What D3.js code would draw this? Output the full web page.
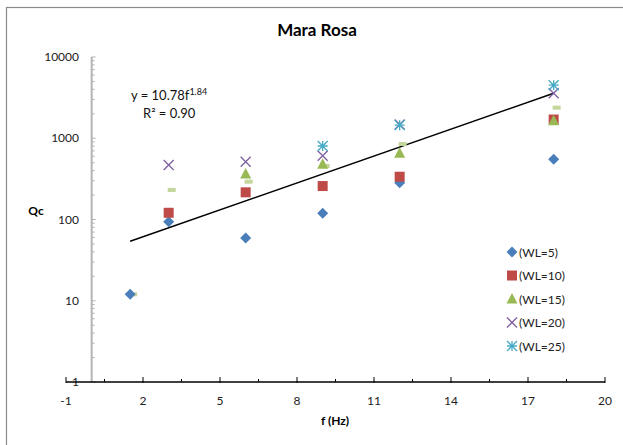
<!DOCTYPE html>
<html>
<head>
<meta charset="utf-8">
<script src="https://cdn.jsdelivr.net/npm/d3@7"></script>
<style>
  body { margin: 0; background: #fff; }
  svg { font-family: Lato, "Liberation Sans", sans-serif; }
</style>
</head>
<body>
<div id="chart"></div>
<script>
// data
const freqs = [1.5, 3, 6, 9, 12, 18];
const wl5  = [12, 94, 59, 119, 284, 551];
const wl10 = [null, 121, 216, 258, 336, 1700];
const wl15 = [null, null, 363, 478, 653, 1645];
const wl20 = [null, 469, 514, 610, 1480, 3575];
const wl25 = [null, null, null, 803, 1450, 4500];
const extra = [12, 231, 292, 456, 850, 2380]; // unlabelled light-green dash series
const seriesNames = ["(WL=5)", "(WL=10)", "(WL=15)", "(WL=20)", "(WL=25)"];
const xTicks = [-1, 2, 5, 8, 11, 14, 17, 20];
const yTicks = [1, 10, 100, 1000, 10000];
const trendStart = [1.5, 54];
const trendEnd = [18, 3575];

const width = 623, height = 445;

const svg = d3.select("#chart").append("svg")
    .attr("width", width)
    .attr("height", height);

// outer chart border (only top/left visible in the crop)
svg.append("rect")
    .attr("x", 6.5).attr("y", 7.5)
    .attr("width", 700).attr("height", 500)
    .attr("fill", "none")
    .attr("stroke", "#8a8a8a")
    .attr("stroke-width", 1.2);

const x = d3.scaleLinear().domain([-1, 20]).range([66, 605]);
const y = d3.scaleLog().domain([1, 10000]).range([382, 57]);

// y axis (gray, crosses at x = 0)
const yAxisG = svg.append("g");
yAxisG.append("line")
    .attr("x1", x(0)).attr("x2", x(0))
    .attr("y1", y(10000)).attr("y2", y(1))
    .attr("stroke", "#b4b4b4").attr("stroke-width", 2);

let minorY = [];
for (let d = 1; d < 10000; d *= 10) {
    for (let k = 2; k <= 9; k++) minorY.push(d * k);
}
yAxisG.selectAll(".ymin").data(minorY).enter().append("line")
    .attr("x1", x(0)).attr("x2", x(0) + 3)
    .attr("y1", d => y(d)).attr("y2", d => y(d))
    .attr("stroke", "#b4b4b4").attr("stroke-width", 1);
yAxisG.selectAll(".ymaj").data(yTicks).enter().append("line")
    .attr("x1", x(0)).attr("x2", x(0) + 4)
    .attr("y1", d => y(d)).attr("y2", d => y(d))
    .attr("stroke", "#b4b4b4").attr("stroke-width", 1);
yAxisG.selectAll(".ylab").data(yTicks).enter().append("text")
    .attr("x", 79)
    .attr("y", d => y(d) + 4)
    .attr("text-anchor", "end")
    .attr("font-size", 12)
    .attr("fill", "#222")
    .text(d => d);

// x axis (black, crosses at y = 1)
const xAxisG = svg.append("g");
xAxisG.append("line")
    .attr("x1", x(-1)).attr("x2", x(20))
    .attr("y1", y(1)).attr("y2", y(1))
    .attr("stroke", "#000").attr("stroke-width", 1.3);
const minorX = xTicks.slice(0, -1).map(d => d + 1.5);
xAxisG.selectAll(".xmin").data(minorX).enter().append("line")
    .attr("x1", d => x(d)).attr("x2", d => x(d))
    .attr("y1", y(1) - 3).attr("y2", y(1))
    .attr("stroke", "#000").attr("stroke-width", 1);
xAxisG.selectAll(".xmaj").data(xTicks).enter().append("line")
    .attr("x1", d => x(d)).attr("x2", d => x(d))
    .attr("y1", y(1) - 5).attr("y2", y(1) + 1)
    .attr("stroke", "#000").attr("stroke-width", 1);
xAxisG.selectAll(".xlab").data(xTicks).enter().append("text")
    .attr("x", d => x(d))
    .attr("y", 405)
    .attr("text-anchor", "middle")
    .attr("font-size", 12)
    .attr("fill", "#222")
    .text(d => d);

// titles
svg.append("text")
    .attr("x", 317).attr("y", 36)
    .attr("text-anchor", "middle")
    .attr("font-size", 17).attr("font-weight", "bold")
    .text("Mara Rosa");
svg.append("text")
    .attr("x", 36).attr("y", 215)
    .attr("text-anchor", "middle")
    .attr("font-size", 12).attr("font-weight", "bold")
    .text("Qc");
svg.append("text")
    .attr("x", 335).attr("y", 425)
    .attr("text-anchor", "middle")
    .attr("font-size", 12).attr("font-weight", "bold")
    .text("f (Hz)");

// trend line
svg.append("line")
    .attr("x1", x(trendStart[0])).attr("y1", y(trendStart[1]))
    .attr("x2", x(trendEnd[0])).attr("y2", y(trendEnd[1]))
    .attr("stroke", "#000").attr("stroke-width", 1.5);

const eq = svg.append("text")
    .attr("x", 131).attr("y", 100)
    .attr("font-size", 13).attr("fill", "#111");
eq.append("tspan").text("y = 10.78f");
eq.append("tspan").attr("font-size", 9).attr("dy", -5).text("1.84");
svg.append("text")
    .attr("x", 143).attr("y", 118)
    .attr("font-size", 13).attr("fill", "#111")
    .text("R² = 0.90");

// marker drawing
const colors = ["#4a7ebb", "#be4b48", "#98b954", "#7d60a0", "#46aac5"];

function drawMarker(g, type, color) {
    if (type === 0) {
        g.append("path").attr("d", "M0,-5.5L5.5,0L0,5.5L-5.5,0Z").attr("fill", color);
    } else if (type === 1) {
        g.append("rect").attr("x", -5).attr("y", -5).attr("width", 10).attr("height", 10)
            .attr("fill", color);
    } else if (type === 2) {
        g.append("path").attr("d", "M0,-6L5.5,4.5L-5.5,4.5Z").attr("fill", color);
    } else if (type === 3) {
        g.append("path").attr("d", "M-5,-5L5,5M-5,5L5,-5")
            .attr("stroke", color).attr("stroke-width", 1.3).attr("fill", "none");
    } else if (type === 4) {
        g.append("path").attr("d", "M-5,-5L5,5M-5,5L5,-5M-5,0L5,0")
            .attr("stroke", color).attr("stroke-width", 1.3).attr("fill", "none");
        g.append("path").attr("d", "M0,-5L0,5")
            .attr("stroke", color).attr("stroke-width", 1.3);
    }
}

const allSeries = [wl5, wl10, wl15, wl20, wl25];

// extra dash series first (sits behind)
svg.append("g").selectAll("rect")
    .data(freqs.map((f, i) => ({f: f, v: extra[i]})).filter(d => d.v != null))
    .enter().append("rect")
    .attr("x", d => x(d.f) - 1)
    .attr("y", d => y(d.v) - 2)
    .attr("width", 8).attr("height", 4)
    .attr("fill", "#c3d69b");

allSeries.forEach((vals, s) => {
    const pts = freqs.map((f, i) => ({f: f, v: vals[i]})).filter(d => d.v != null);
    pts.forEach(d => {
        const g = svg.append("g")
            .attr("transform", `translate(${x(d.f)},${y(d.v)})`);
        drawMarker(g, s, colors[s]);
    });
});

// legend
const legend = svg.append("g");
seriesNames.forEach((name, i) => {
    const ly = 252 + i * 23.5;
    const g = legend.append("g").attr("transform", `translate(512,${ly})`);
    drawMarker(g, i, colors[i]);
    legend.append("text")
        .attr("x", 519).attr("y", ly + 4.5)
        .attr("font-size", 12).attr("fill", "#222")
        .text(name);
});
</script>
</body>
</html>
